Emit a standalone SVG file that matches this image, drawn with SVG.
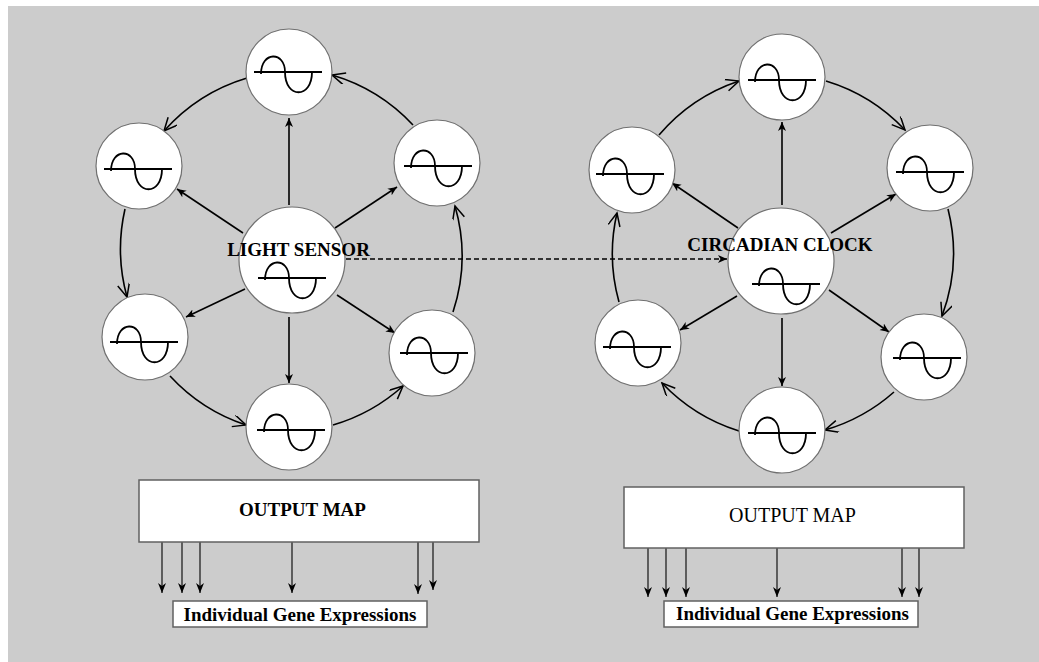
<svg xmlns="http://www.w3.org/2000/svg" xmlns:xlink="http://www.w3.org/1999/xlink" width="1039" height="662" viewBox="0 0 1039 662">
<style>
.node{fill:#fff;stroke:#707070;stroke-width:1.2}
.glyph{fill:none;stroke:#000;stroke-width:1.8}
.radial{stroke:#000;stroke-width:1.6;fill:none;marker-end:url(#fh)}
.ring{stroke:#000;stroke-width:1.6;fill:none;marker-end:url(#vh)}
.out{stroke:#000;stroke-width:1.1;fill:none;marker-end:url(#fh2)}
.box{fill:#fff;stroke:#606060;stroke-width:1.5}
.lbl{font-family:"Liberation Serif","Times New Roman",serif;font-weight:bold;font-size:19px;fill:#000;text-anchor:middle}
</style>
<defs>
<marker id="fh" markerUnits="userSpaceOnUse" markerWidth="12" markerHeight="10" refX="9" refY="4" orient="auto" viewBox="0 0 12 10">
<path d="M0,0 L9,4 L0,8 L2.5,4 z" fill="#000"/>
</marker>
<marker id="fh2" markerUnits="userSpaceOnUse" markerWidth="12" markerHeight="12" refX="10" refY="4" orient="auto" viewBox="0 0 12 10">
<path d="M0,0 L10,4 L0,8 L3,4 z" fill="#000"/>
</marker>
<marker id="vh" markerUnits="userSpaceOnUse" markerWidth="16" markerHeight="14" refX="14" refY="6" orient="auto" viewBox="0 0 16 14">
<path d="M1,0 L14,6 L1,12" fill="none" stroke="#000" stroke-width="1.5"/>
</marker>
<g id="osc">
<line x1="-34" y1="0" x2="34" y2="0" stroke="#000" stroke-width="2"/>
<path class="glyph" d="M-27,2 C-27,-21 -3,-21 -3,0 C-3,27 24,27 24,0"/>
</g>
</defs>
<rect x="0" y="0" width="1039" height="662" fill="#fff"/>
<rect x="8" y="6" width="1031" height="656" fill="#cccccc"/>

<g id="connectors">
<!-- left radials -->
<line class="radial" x1="289" y1="205" x2="289" y2="118"/>
<line class="radial" x1="243" y1="233" x2="177" y2="189"/>
<line class="radial" x1="335" y1="228" x2="397" y2="187"/>
<line class="radial" x1="245" y1="289" x2="186" y2="317"/>
<line class="radial" x1="337" y1="295" x2="395" y2="333"/>
<line class="radial" x1="289" y1="317" x2="289" y2="383"/>
<!-- left ring -->
<path class="ring" d="M247,78 A180,180 0 0 0 164,131"/>
<path class="ring" d="M125,209 A180,180 0 0 0 127,297"/>
<path class="ring" d="M170,376 A180,180 0 0 0 246,425"/>
<path class="ring" d="M333,425 A180,180 0 0 0 403,386"/>
<path class="ring" d="M453,312 A180,180 0 0 0 455,206"/>
<path class="ring" d="M413,125 A180,180 0 0 0 332,75"/>
<!-- right radials -->
<line class="radial" x1="782" y1="205" x2="782" y2="122"/>
<line class="radial" x1="738" y1="228" x2="672" y2="183"/>
<line class="radial" x1="831" y1="233" x2="896" y2="194"/>
<line class="radial" x1="737" y1="296" x2="680" y2="330"/>
<line class="radial" x1="829" y1="290" x2="889" y2="332"/>
<line class="radial" x1="782" y1="318" x2="782" y2="386"/>
<!-- right ring -->
<path class="ring" d="M659,135 A180,180 0 0 1 739,81"/>
<path class="ring" d="M826,81 A180,180 0 0 1 905,130"/>
<path class="ring" d="M948,209 A180,180 0 0 1 942,316"/>
<path class="ring" d="M894,392 A180,180 0 0 1 825,430"/>
<path class="ring" d="M739,431 A180,180 0 0 1 662,383"/>
<path class="ring" d="M619,302 A180,180 0 0 1 617,213"/>
<!-- dashed link -->
<line x1="346" y1="259" x2="727" y2="259" stroke="#000" stroke-width="1.5" stroke-dasharray="5,3" marker-end="url(#fh)"/>
<!-- left outputs -->
<line class="out" x1="162" y1="542" x2="162" y2="593"/>
<line class="out" x1="182" y1="542" x2="182" y2="593"/>
<line class="out" x1="200" y1="542" x2="200" y2="593"/>
<line class="out" x1="292" y1="542" x2="292" y2="593"/>
<line class="out" x1="418" y1="542" x2="418" y2="594"/>
<line class="out" x1="433" y1="542" x2="433" y2="590"/>
<!-- right outputs -->
<line class="out" x1="648" y1="547" x2="648" y2="597"/>
<line class="out" x1="666" y1="548" x2="666" y2="597"/>
<line class="out" x1="686" y1="548" x2="686" y2="597"/>
<line class="out" x1="777" y1="548" x2="777" y2="597"/>
<line class="out" x1="902" y1="548" x2="902" y2="597"/>
<line class="out" x1="919" y1="548" x2="919" y2="597"/>
</g>

<!-- left circuit nodes -->
<g id="L_top"><circle class="node" cx="289" cy="72" r="43"/><use xlink:href="#osc" x="288" y="72"/></g>
<g id="L_ul"><circle class="node" cx="139" cy="166" r="43"/><use xlink:href="#osc" x="138" y="169"/></g>
<g id="L_ur"><circle class="node" cx="437" cy="163" r="43"/><use xlink:href="#osc" x="438" y="166"/></g>
<g id="L_ll"><circle class="node" cx="145" cy="337" r="43"/><use xlink:href="#osc" x="144" y="342"/></g>
<g id="L_lr"><circle class="node" cx="432" cy="353" r="43"/><use xlink:href="#osc" x="434" y="353"/></g>
<g id="L_bot"><circle class="node" cx="289" cy="427" r="43"/><use xlink:href="#osc" x="291" y="430"/></g>
<g id="light_sensor"><circle class="node" cx="292" cy="260" r="53"/><use xlink:href="#osc" x="292" y="278"/><text class="lbl" x="298.5" y="256">LIGHT SENSOR</text></g>

<!-- right circuit nodes -->
<g id="R_top"><circle class="node" cx="782" cy="77" r="43"/><use xlink:href="#osc" x="782" y="80"/></g>
<g id="R_ul"><circle class="node" cx="632" cy="170" r="43"/><use xlink:href="#osc" x="630" y="174"/></g>
<g id="R_ur"><circle class="node" cx="930" cy="168" r="43"/><use xlink:href="#osc" x="930" y="172"/></g>
<g id="R_ll"><circle class="node" cx="638" cy="343" r="43"/><use xlink:href="#osc" x="637" y="347"/></g>
<g id="R_lr"><circle class="node" cx="924" cy="357" r="43"/><use xlink:href="#osc" x="927" y="358"/></g>
<g id="R_bot"><circle class="node" cx="782" cy="430" r="43"/><use xlink:href="#osc" x="782" y="433"/></g>
<g id="circadian_clock"><circle class="node" cx="781" cy="261" r="53"/><use xlink:href="#osc" x="786" y="284"/><text class="lbl" x="780" y="251">CIRCADIAN CLOCK</text></g>

<!-- output maps -->
<g id="L_output"><rect class="box" x="139" y="480" width="340" height="62"/><text class="lbl" x="302.5" y="516">OUTPUT MAP</text></g>
<g id="R_output"><rect class="box" x="624" y="487" width="340" height="61"/><text class="lbl" x="792.5" y="522" style="font-weight:normal;font-size:20px">OUTPUT MAP</text></g>
<g id="L_genes"><rect class="box" x="173" y="601" width="254" height="26"/><text class="lbl" x="300" y="621">Individual Gene Expressions</text></g>
<g id="R_genes"><rect class="box" x="664" y="601" width="254" height="26"/><text class="lbl" x="792.5" y="620">Individual Gene Expressions</text></g>
</svg>
